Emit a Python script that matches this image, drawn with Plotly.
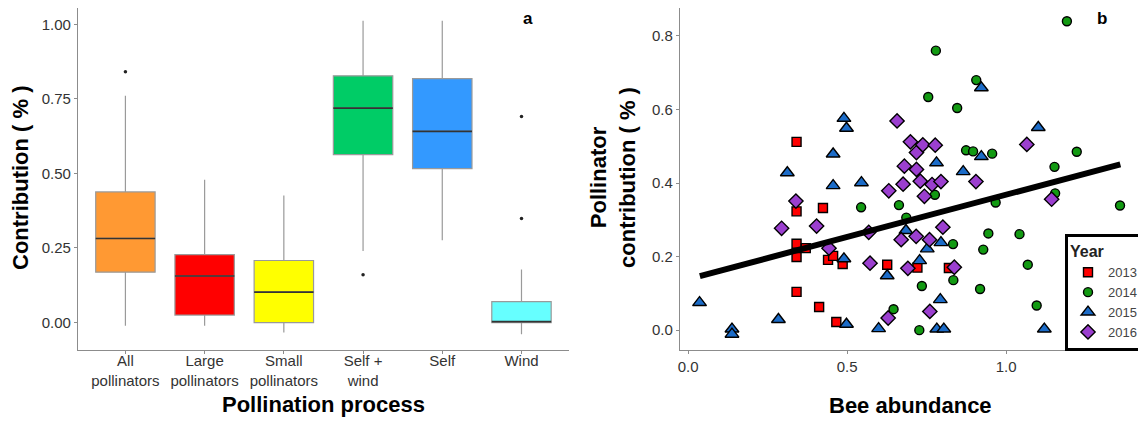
import plotly.graph_objects as go

# page body has an 8px margin: figure is sized and placed to compensate
OX, OY = 8, 8
W, H = 1146 - OX, 426 - OY

# ---------------- Panel a: box plots ----------------
categories = ["All<br>pollinators", "Large<br>pollinators", "Small<br>pollinators",
              "Self +<br>wind", "Self", "Wind"]
box_q1 = [0.169, 0.025, 0.000, 0.563, 0.516, 0.000]
box_median = [0.282, 0.156, 0.102, 0.719, 0.641, 0.003]
box_q3 = [0.438, 0.228, 0.208, 0.827, 0.818, 0.070]
box_lower = [-0.011, -0.011, -0.033, 0.240, 0.276, -0.039]
box_upper = [0.760, 0.479, 0.426, 1.012, 1.012, 0.178]
box_colors = ["#FF9933", "#FF0000", "#FFFF00", "#00CC66", "#3399FF", "#66FFFF"]
outlier_cat = [0, 3, 5, 5]
outlier_val = [0.841, 0.160, 0.691, 0.349]

# ---------------- Panel b: scatter ----------------
x2013 = [0.341, 0.341, 0.424, 0.341, 0.341, 0.370, 0.341, 0.412, 0.440, 0.456, 0.486, 0.466, 0.626, 0.721, 0.820]
y2013 = [0.512, 0.323, 0.332, 0.235, 0.199, 0.223, 0.104, 0.063, 0.191, 0.202, 0.180, 0.022, 0.178, 0.170, 0.169]

x2014 = [1.191, 0.779, 0.906, 0.755, 0.846, 0.874, 0.896, 0.956, 1.222, 1.152, 1.154, 0.967,
         1.358, 0.544, 0.663, 0.776, 0.686, 0.944, 1.042, 0.833, 0.928, 1.068, 0.834, 0.918,
         0.735, 0.646, 1.096, 0.727]
y2014 = [0.840, 0.760, 0.680, 0.634, 0.604, 0.489, 0.486, 0.480, 0.485, 0.444, 0.372, 0.347,
         0.339, 0.334, 0.340, 0.368, 0.306, 0.263, 0.261, 0.234, 0.219, 0.178, 0.136, 0.112,
         0.120, 0.057, 0.067, 0.000]

x2015 = [0.036, 0.138, 0.138, 0.284, 0.312, 0.490, 0.498, 0.456, 0.456, 0.545, 0.490, 0.498,
         0.599, 0.626, 0.685, 0.728, 0.752, 0.795, 0.781, 0.865, 0.922, 0.922, 1.101, 0.793,
         0.782, 0.804, 1.120]
y2015 = [0.075, 0.003, -0.011, 0.029, 0.428, 0.576, 0.549, 0.479, 0.393, 0.401, 0.194, 0.016,
         0.004, 0.148, 0.271, 0.189, 0.221, 0.238, 0.455, 0.431, 0.472, 0.659, 0.551, 0.083,
         0.003, 0.003, 0.003]

x2016 = [0.339, 0.294, 0.404, 0.443, 0.572, 0.568, 0.657, 0.631, 0.676, 0.680, 0.699, 0.718,
         0.718, 0.738, 0.730, 0.743, 0.767, 0.777, 0.795, 0.905, 1.065, 1.143, 0.670, 0.717,
         0.759, 0.801, 0.691, 0.837, 0.760, 0.629]
y2016 = [0.351, 0.277, 0.283, 0.223, 0.182, 0.266, 0.569, 0.379, 0.397, 0.446, 0.512, 0.483,
         0.437, 0.504, 0.405, 0.364, 0.396, 0.503, 0.404, 0.404, 0.505, 0.356, 0.246, 0.255,
         0.246, 0.280, 0.168, 0.171, 0.051, 0.033]

trend_x = [0.037, 1.359]
trend_y = [0.147, 0.451]

years = ["2013", "2014", "2015", "2016"]
year_x = [x2013, x2014, x2015, x2016]
year_y = [y2013, y2014, y2015, y2016]
year_colors = ["#FF0000", "#129A12", "#1C6CC8", "#9B3FCF"]
year_symbols = ["square", "circle", "triangle-up", "diamond"]
year_sizes = [9, 9, 12, 11]

FONT = "Arial, 'Liberation Sans', sans-serif"


def fx(px):
    return (px - OX) / W


def fy(py):
    return 1 - (py - OY) / H


fig = go.Figure()

for i in range(len(categories)):
    fig.add_trace(go.Box(
        x=[i], q1=[box_q1[i]], median=[box_median[i]], q3=[box_q3[i]],
        lowerfence=[box_lower[i]], upperfence=[box_upper[i]],
        fillcolor=box_colors[i], line=dict(color="#9a9a9a", width=1.2),
        whiskerwidth=0, width=0.75, boxpoints=False, showlegend=False,
        hoverinfo="skip", xaxis="x", yaxis="y"))
    # median line drawn darker
    fig.add_trace(go.Box(
        x=[i], q1=[box_median[i]], median=[box_median[i]], q3=[box_median[i]],
        lowerfence=[box_median[i]], upperfence=[box_median[i]],
        fillcolor="rgba(0,0,0,0)", line=dict(color="#333333", width=1.6),
        whiskerwidth=0, width=0.75, boxpoints=False, showlegend=False,
        hoverinfo="skip", xaxis="x", yaxis="y"))

fig.add_trace(go.Scatter(
    x=outlier_cat, y=outlier_val, mode="markers",
    marker=dict(color="#222222", size=3.5), showlegend=False,
    hoverinfo="skip", xaxis="x", yaxis="y"))

for k in range(4):
    fig.add_trace(go.Scatter(
        x=year_x[k], y=year_y[k], mode="markers", name=years[k],
        marker=dict(symbol=year_symbols[k], color=year_colors[k], size=year_sizes[k],
                    line=dict(color="black", width=1.4)),
        xaxis="x2", yaxis="y2"))

fig.add_trace(go.Scatter(
    x=trend_x, y=trend_y, mode="lines", line=dict(color="black", width=6),
    showlegend=False, hoverinfo="skip", xaxis="x2", yaxis="y2"))

# plot area spans y = 8 .. 350 px of the page
ydom = [fy(350), fy(8)]
axis_common = dict(showline=True, linecolor="#8c8c8c", linewidth=1, showgrid=False,
                   zeroline=False, ticks="outside", ticklen=3, tickcolor="#8c8c8c")
tick_font = dict(family=FONT, size=15, color="#333333")

fig.update_layout(
    width=W, height=H,
    margin=dict(l=0, r=0, t=0, b=0),
    paper_bgcolor="white", plot_bgcolor="white",
    boxmode="overlay",
    font=dict(family=FONT),
    xaxis=dict(domain=[fx(76), fx(568)], range=[-0.6, 5.6],
               tickvals=list(range(len(categories))), ticktext=categories,
               anchor="y", ticklabelstandoff=-6,
               tickfont=dict(family=FONT, size=15, color="#333333"), **axis_common),
    yaxis=dict(domain=ydom, range=[-0.092, 1.0545], tickvals=[0, 0.25, 0.5, 0.75, 1.0],
               tickformat=".2f", anchor="x", tickfont=tick_font, **axis_common),
    xaxis2=dict(domain=[fx(679), fx(1141)], range=[-0.026, 1.424], tickvals=[0, 0.5, 1.0],
                tickformat=".1f", anchor="y2", tickfont=tick_font, **axis_common),
    yaxis2=dict(domain=ydom, range=[-0.054, 0.876], tickvals=[0, 0.2, 0.4, 0.6, 0.8],
                tickformat=".1f", anchor="x2", tickfont=tick_font, **axis_common),
    legend=dict(x=fx(1145), xanchor="right", y=fy(292), yanchor="middle",
                bgcolor="white", bordercolor="black", borderwidth=3,
                font=dict(family=FONT, size=13, color="#444444"),
                title=dict(text="<b>Year</b>", font=dict(family=FONT, size=16, color="#222222")),
                tracegroupgap=0, itemwidth=30),
)


def ann(text, px, py, size, angle=0):
    fig.add_annotation(text=text, x=fx(px), y=fy(py), xref="paper", yref="paper",
                       showarrow=False, textangle=angle, xanchor="center", yanchor="middle",
                       borderpad=0, font=dict(family=FONT, size=size, color="black"))


ann("<b>Contribution ( % )</b>", 19, 177, 22, -90)
ann("<b>Pollination process</b>", 322, 404, 22)
ann("<b>Pollinator<br>contribution ( % )</b>", 612, 177, 22, -90)
ann("<b>Bee abundance</b>", 910, 405, 22)
ann("<b>a</b>", 527, 19, 17)
ann("<b>b</b>", 1102, 19, 17)

fig.write_html("out.html")
